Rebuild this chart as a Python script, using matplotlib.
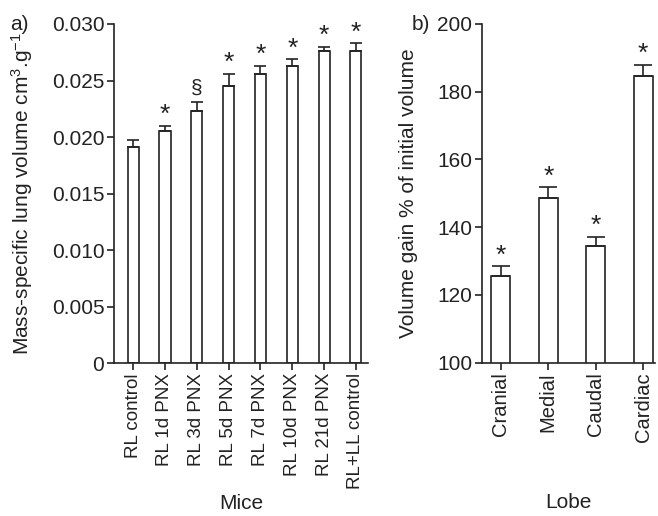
import matplotlib
matplotlib.use('Agg')
import matplotlib.pyplot as plt
import numpy as np

plt.rcParams['font.family'] = ['Liberation Sans', 'DejaVu Sans']
plt.rcParams['mathtext.default'] = 'regular'

# panel a
mice = ['RL control', 'RL 1d PNX', 'RL 3d PNX', 'RL 5d PNX', 'RL 7d PNX',
        'RL 10d PNX', 'RL 21d PNX', 'RL+LL control']
vol = [0.0191, 0.0205, 0.0223, 0.0245, 0.0256, 0.0263, 0.0276, 0.0276]
vol_err = [0.0006, 0.0005, 0.0008, 0.0011, 0.0007, 0.0006, 0.0004, 0.0007]
vol_mark = ['', '*', '§', '*', '*', '*', '*', '*']

# panel b
lobes = ['Cranial', 'Medial', 'Caudal', 'Cardiac']
gain = [125.5, 148.5, 134.5, 184.5]
gain_err = [3.0, 3.3, 2.7, 3.5]
gain_mark = ['*', '*', '*', '*']

fig = plt.figure(figsize=(6.58, 5.16), dpi=100)
axa = fig.add_axes([0.1733, 0.2959, 0.386, 0.6576])
axb = fig.add_axes([0.7325, 0.2971, 0.2629, 0.6564])

fs = 15
lw = 1.2
ink = '#222222'

def panel(ax, vals, errs, marks, labels, width, cap, tsize):
    x = np.arange(len(vals))
    ax.bar(x, vals, width=width, color='white', edgecolor=ink, linewidth=lw, zorder=2)
    ax.errorbar(x, vals, yerr=[np.zeros(len(errs)), errs], fmt='none', ecolor=ink,
                elinewidth=lw, capsize=cap, capthick=lw, zorder=3)
    for xi, v, e, m in zip(x, vals, errs, marks):
        if m == '*':
            ax.annotate(m, (xi, v + e), xytext=(0, -1), textcoords='offset points',
                        ha='center', va='bottom', fontsize=19, color=ink)
        elif m:
            ax.annotate(m, (xi, v + e), xytext=(0, 3), textcoords='offset points',
                        ha='center', va='bottom', fontsize=15, color=ink)
    ax.set_xticks(x)
    ax.set_xticklabels(labels, rotation=90, fontsize=tsize)
    for s in ['top', 'right']:
        ax.spines[s].set_visible(False)
    for s in ['left', 'bottom']:
        ax.spines[s].set_linewidth(lw)
        ax.spines[s].set_color(ink)
    ax.tick_params(axis='both', direction='out', length=5, width=lw, color=ink,
                   labelcolor=ink)
    ax.tick_params(axis='x', pad=2)
    ax.tick_params(axis='y', labelsize=fs, pad=2)

panel(axa, vol, vol_err, vol_mark, mice, 0.35, 4.3, 13.5)
axa.set_xlim(-0.6, 7.38)
axa.set_ylim(0, 0.030)
axa.set_yticks([0, 0.005, 0.010, 0.015, 0.020, 0.025, 0.030])
axa.set_yticklabels(['0', '0.005', '0.010', '0.015', '0.020', '0.025', '0.030'])
axa.set_ylabel(r'Mass-specific lung volume cm$^{3}$.g$^{-1}$', fontsize=fs, color=ink)
axa.yaxis.set_label_coords(-0.31, 0.5)
axa.set_xlabel('Mice', fontsize=fs, color=ink)
axa.xaxis.set_label_coords(0.5, -0.385)

panel(axb, gain, gain_err, gain_mark, lobes, 0.4, 6.7, 14.5)
axb.set_xlim(-0.4, 3.25)
axb.set_ylim(100, 200)
axb.set_yticks([100, 120, 140, 160, 180, 200])
axb.set_ylabel('Volume gain % of initial volume', fontsize=fs, color=ink)
axb.yaxis.set_label_coords(-0.37, 0.5)
axb.set_xlabel('Lobe', fontsize=fs, color=ink)
axb.xaxis.set_label_coords(0.5, -0.385)

fig.text(0.015, 0.953, 'a)', fontsize=fs, va='center', color=ink)
fig.text(0.625, 0.953, 'b)', fontsize=fs, va='center', color=ink)

fig.savefig('out.png', dpi=100)
